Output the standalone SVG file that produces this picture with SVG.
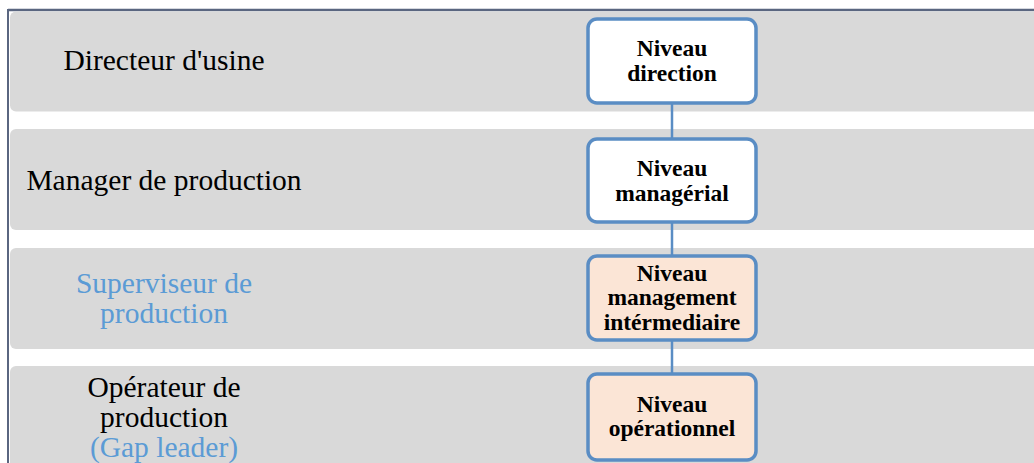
<svg xmlns="http://www.w3.org/2000/svg" width="1034" height="463" viewBox="0 0 1034 463">
<style>
.band{fill:#d9d9d9}
.lbl{font-family:"Liberation Serif","Times New Roman",serif;font-size:29.5px;text-anchor:middle;fill:#000}
.blue{fill:#5b9bd5}
.box{stroke:#5a8dc4;stroke-width:3.5}
.wh{fill:#ffffff}
.pk{fill:#fbe5d6}
.bt{font-family:"Liberation Serif","Times New Roman",serif;font-size:23.5px;font-weight:bold;text-anchor:middle;fill:#000}
.con{stroke:#5a8dc4;stroke-width:2.5;fill:none}
</style>
<rect width="1034" height="463" fill="#ffffff"/>
<g id="frame">
<line x1="8" y1="10" x2="1034" y2="10" stroke="#5a6680" stroke-width="2.5"/>
<line x1="8" y1="9" x2="8" y2="463" stroke="#5a6680" stroke-width="2"/>
</g>
<g id="bands">
<rect class="band" x="10" y="11.5" width="1040" height="100" rx="6"/>
<rect class="band" x="10" y="129" width="1040" height="101" rx="6"/>
<rect class="band" x="10" y="248" width="1040" height="101" rx="6"/>
<rect class="band" x="10" y="366" width="1040" height="110" rx="6"/>
</g>
<g id="connectors">
<line class="con" x1="672" y1="103" x2="672" y2="139"/>
<line class="con" x1="672" y1="222" x2="672" y2="256"/>
<line class="con" x1="672" y1="340" x2="672" y2="374"/>
</g>
<g id="row1">
<text class="lbl" x="164" y="70">Directeur d'usine</text>
<g id="n1">
<rect class="box wh" x="588" y="19" width="168" height="84" rx="9"/>
<text class="bt" x="672" y="56">Niveau</text>
<text class="bt" x="672" y="81">direction</text>
</g>
</g>
<g id="row2">
<text class="lbl" x="164" y="190">Manager de production</text>
<g id="n2">
<rect class="box wh" x="588" y="139" width="168" height="83" rx="9"/>
<text class="bt" x="672" y="176">Niveau</text>
<text class="bt" x="672" y="201">managérial</text>
</g>
</g>
<g id="row3">
<text class="lbl blue" x="164" y="293">Superviseur de</text>
<text class="lbl blue" x="164" y="323">production</text>
<g id="n3">
<rect class="box pk" x="588" y="256" width="168" height="84" rx="9"/>
<text class="bt" x="672" y="281">Niveau</text>
<text class="bt" x="672" y="305">management</text>
<text class="bt" x="672" y="330">intérmediaire</text>
</g>
</g>
<g id="row4">
<text class="lbl" x="164" y="397">Opérateur de</text>
<text class="lbl" x="164" y="427">production</text>
<text class="lbl blue" x="164" y="457">(Gap leader)</text>
<g id="n4">
<rect class="box pk" x="588" y="374" width="168" height="86" rx="9"/>
<text class="bt" x="672" y="412">Niveau</text>
<text class="bt" x="672" y="436">opérationnel</text>
</g>
</g>
</svg>
